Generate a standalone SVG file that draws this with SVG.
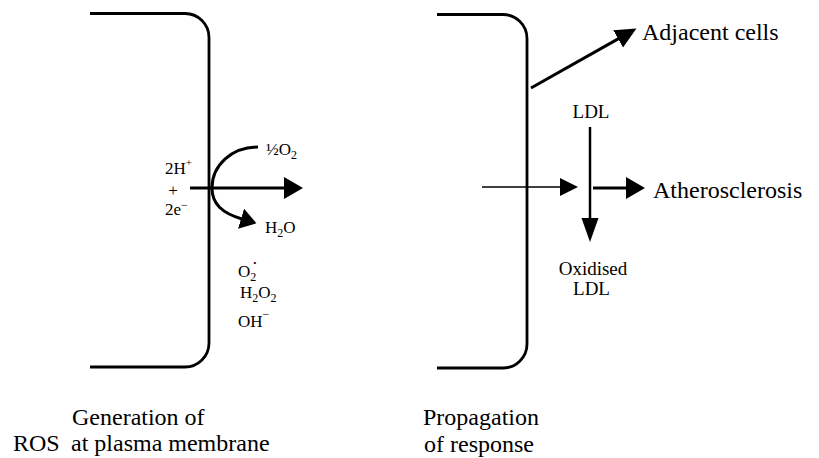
<svg xmlns="http://www.w3.org/2000/svg" width="819" height="458" viewBox="0 0 819 458" font-family="Liberation Serif, Times New Roman, Times, DejaVu Serif, serif">
<style>
text{font-family:'Liberation Serif','Times New Roman',Times,'DejaVu Serif',serif;fill:#000}
.s{font-size:17px}
.m{font-size:19px}
.l{font-size:24px}
.mem{fill:none;stroke:#000;stroke-width:2.8}
.c{fill:none;stroke:#000}
</style>
<defs>
<marker id="ah" markerUnits="userSpaceOnUse" markerWidth="20" markerHeight="23" refX="1" refY="11" orient="auto"><path d="M0,0 L19,11 L0,22 z"/></marker>
<marker id="ahs" markerUnits="userSpaceOnUse" markerWidth="19" markerHeight="19" refX="1" refY="9" orient="auto"><path d="M0,0 L18,9 L0,18 z"/></marker>
<marker id="ahl" markerUnits="userSpaceOnUse" markerWidth="25" markerHeight="18" refX="1" refY="8.5" orient="auto"><path d="M0,0 L24,8.5 L0,17 z"/></marker>
<marker id="ahm" markerUnits="userSpaceOnUse" markerWidth="22" markerHeight="21" refX="1" refY="10" orient="auto"><path d="M0,0 L21,10 L0,20 z"/></marker>
<marker id="ahc" markerUnits="userSpaceOnUse" markerWidth="17" markerHeight="22" refX="1" refY="10.5" orient="auto"><path d="M0,0 L16,10.5 L0,21 z"/></marker>
</defs>
<g id="membrane-left"><path class="mem" d="M90,13.5 H185 A24,24 0 0 1 209,37.5 V343 A24,24 0 0 1 185,367 H90"/></g>
<g id="membrane-right"><path class="mem" d="M437,14.5 H503 A24,24 0 0 1 527,38.5 V344 A24,24 0 0 1 503,368 H437"/></g>
<g id="connectors">
<line class="c" stroke-width="3" x1="190" y1="188" x2="285" y2="188" marker-end="url(#ah)"/>
<path class="c" stroke-width="3" d="M258,147 C232,147 212,165 212,188 C212,204 222,213 242,219" marker-end="url(#ahc)"/>
<line class="c" stroke-width="1.6" x1="482" y1="187" x2="561" y2="187" marker-end="url(#ahs)"/>
<line class="c" stroke-width="2.5" x1="590" y1="127" x2="590" y2="219" marker-end="url(#ahl)"/>
<line class="c" stroke-width="3" x1="593" y1="188" x2="627" y2="188" marker-end="url(#ah)"/>
<line class="c" stroke-width="3" x1="531" y1="88" x2="619" y2="38.4" marker-end="url(#ahm)"/>
</g>
<g id="label-2H"><text class="s" x="165" y="174">2H<tspan font-size="11" dy="-8">+</tspan></text></g>
<g id="label-plus"><text class="s" x="173" y="196" text-anchor="middle">+</text></g>
<g id="label-2e"><text class="s" x="165" y="215">2e<tspan font-size="12" dy="-6">−</tspan></text></g>
<g id="label-halfO2"><text class="s" x="266" y="155">½O<tspan font-size="12" dy="4">2</tspan></text></g>
<g id="label-H2O"><text class="s" x="265" y="233">H<tspan font-size="12" dy="4">2</tspan><tspan dy="-4">O</tspan></text></g>
<g id="label-ros">
<text class="s" x="238" y="277">O<tspan font-size="12" dy="4">2</tspan><tspan font-size="9" dx="-3" dy="-15">•</tspan></text>
<text class="s" x="240" y="298">H<tspan font-size="12" dy="4">2</tspan><tspan dy="-4">O</tspan><tspan font-size="12" dy="4">2</tspan></text>
<text class="s" x="238" y="327">OH<tspan font-size="12" dy="-9">−</tspan></text>
</g>
<g id="label-LDL"><text class="m" x="591" y="118" text-anchor="middle">LDL</text></g>
<g id="label-oxLDL"><text class="m" text-anchor="middle"><tspan x="593" y="275">Oxidised</tspan><tspan x="591.5" y="295">LDL</tspan></text></g>
<g id="label-adjacent"><text class="l" x="642" y="40">Adjacent cells</text></g>
<g id="label-athero"><text class="l" x="653" y="198">Atherosclerosis</text></g>
<g id="caption-left"><text class="l" x="72" y="425">Generation of</text><text class="l" y="451"><tspan x="13">ROS</tspan><tspan x="71">at plasma membrane</tspan></text></g>
<g id="caption-right"><text class="l" text-anchor="middle"><tspan x="481" y="425">Propagation</tspan><tspan x="479" y="452">of response</tspan></text></g>
</svg>
